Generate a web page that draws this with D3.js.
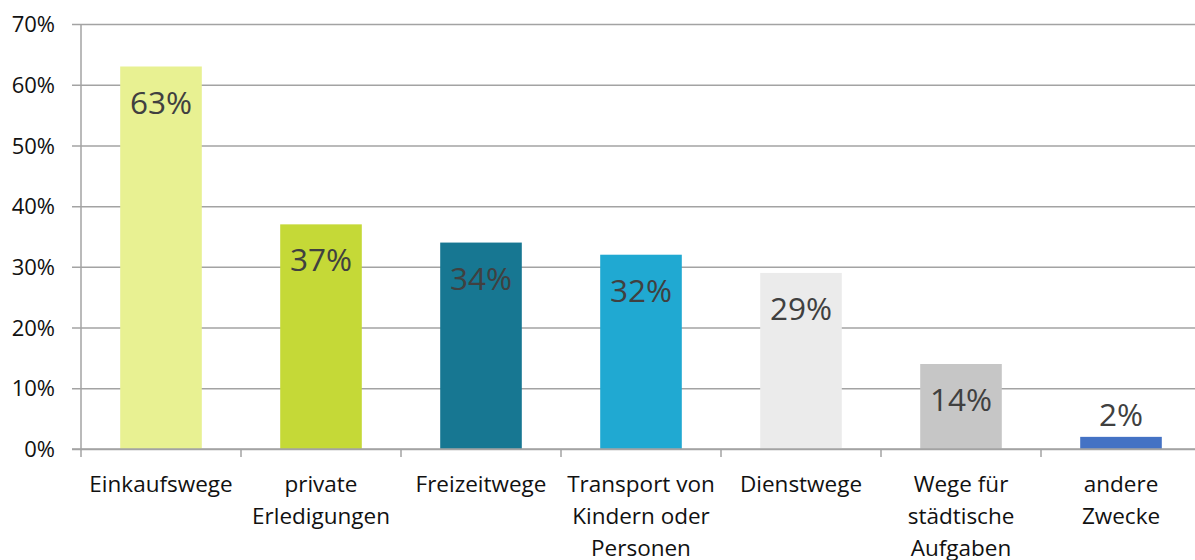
<html>
<head>
<meta charset="utf-8">
<style>
  body { margin: 0; background: #fff; font-family: "Open Sans", sans-serif; }
  svg text { font-family: "Open Sans", sans-serif; }
</style>
<script src="https://cdn.jsdelivr.net/npm/d3@7"></script>
</head>
<body>
<svg id="chart"></svg>
<script>
// chart data
let categories = ["Einkaufswege", "private Erledigungen", "Freizeitwege", "Transport von Kindern oder Personen", "Dienstwege", "Wege für städtische Aufgaben", "andere Zwecke"]
let labelLines = [["Einkaufswege"], ["private", "Erledigungen"], ["Freizeitwege"], ["Transport von", "Kindern oder", "Personen"], ["Dienstwege"], ["Wege für", "städtische", "Aufgaben"], ["andere", "Zwecke"]]
let values = [63, 37, 34, 32, 29, 14, 2]
let colors = ["#e8f192", "#c5d937", "#177792", "#20a9d2", "#ebebeb", "#c6c6c6", "#4472c4"]
let yTicks = [0, 10, 20, 30, 40, 50, 60, 70]

let width = 1195, height = 560
let margin = { top: 24, left: 81, bottom: 111 }
let svg = d3.select("#chart").attr("width", width).attr("height", height)

let x = d3.scaleBand()
    .domain(categories)
    .range([margin.left, margin.left + 160 * categories.length])
    .paddingInner(0.49)
    .paddingOuter(0.245)
let y = d3.scaleLinear()
    .domain([0, 70])
    .range([height - margin.bottom, margin.top])

// gridlines + y labels
let gy = svg.append("g")
    .attr("transform", `translate(${margin.left},0)`)
    .call(d3.axisLeft(y).tickValues(yTicks).tickFormat(d => d + "%").tickSize(-(width - margin.left)).tickPadding(26))
gy.select(".domain").remove()
gy.selectAll("line").attr("x1", -9).attr("stroke", "#a3a3a3").attr("stroke-width", 1.5)
gy.selectAll("text").attr("font-size", 22).attr("fill", "#111").attr("dy", "0.35em")

// bars
svg.append("g").selectAll("rect").data(values).enter().append("rect")
    .attr("x", (d, i) => x(categories[i]))
    .attr("width", x.bandwidth())
    .attr("y", d => y(d))
    .attr("height", d => y(0) - y(d))
    .attr("fill", (d, i) => colors[i])

// y axis line
svg.append("line")
    .attr("x1", margin.left).attr("x2", margin.left)
    .attr("y1", y(70)).attr("y2", y(0) + 8)
    .attr("stroke", "#a3a3a3").attr("stroke-width", 1.5)

// bottom axis line + ticks between categories
svg.append("line")
    .attr("x1", margin.left - 9).attr("x2", width)
    .attr("y1", y(0)).attr("y2", y(0))
    .attr("stroke", "#a3a3a3").attr("stroke-width", 1.5)
svg.append("g").selectAll("line").data(d3.range(1, categories.length)).enter().append("line")
    .attr("x1", i => x(categories[i]) - x.step() * x.paddingInner() / 2)
    .attr("x2", i => x(categories[i]) - x.step() * x.paddingInner() / 2)
    .attr("y1", y(0)).attr("y2", y(0) + 8)
    .attr("stroke", "#a3a3a3").attr("stroke-width", 1.5)

// value labels
svg.append("g").selectAll("text").data(values).enter().append("text")
    .attr("x", (d, i) => x(categories[i]) + x.bandwidth() / 2)
    .attr("y", d => (y(0) - y(d) > 60) ? y(d) + 47 : y(d) - 11)
    .attr("text-anchor", "middle")
    .attr("font-size", 31.5)
    .attr("fill", "#404040")
    .text(d => d + "%")

// category labels
let cl = svg.append("g").selectAll("text").data(labelLines).enter().append("text")
    .attr("x", (d, i) => x(categories[i]) + x.bandwidth() / 2)
    .attr("y", 492)
    .attr("text-anchor", "middle")
    .attr("font-size", 22.5)
    .attr("fill", "#111")
cl.selectAll("tspan").data(d => d).enter().append("tspan")
    .attr("x", function () { return this.parentNode.getAttribute("x") })
    .attr("dy", (d, i) => i == 0 ? 0 : 32)
    .text(d => d)
</script>
</body>
</html>
